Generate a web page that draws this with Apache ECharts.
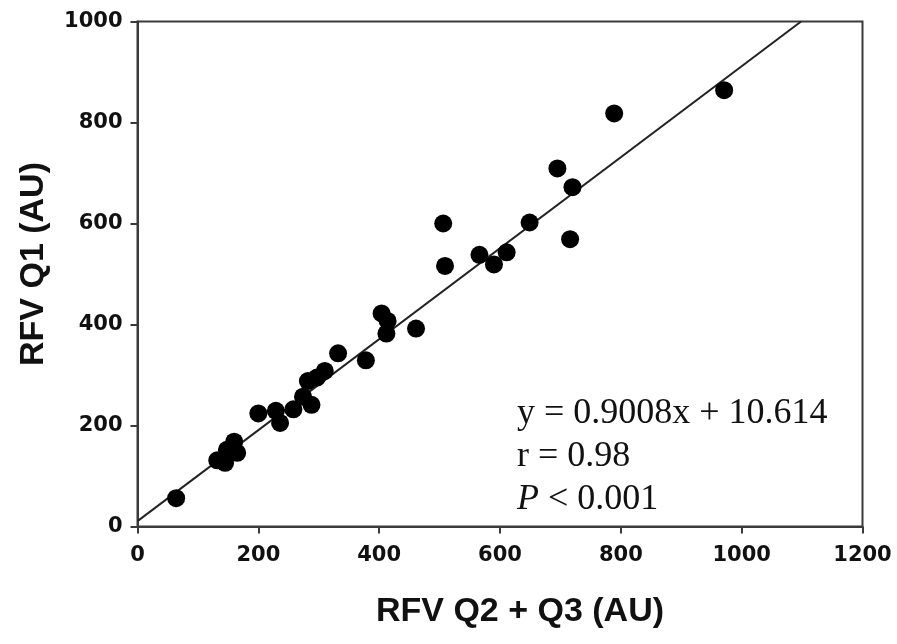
<!DOCTYPE html>
<html>
<head>
<meta charset="utf-8">
<script src="https://cdn.jsdelivr.net/npm/echarts@6/dist/echarts.min.js"></script>
<style>
  html, body { margin: 0; padding: 0; background: #fff; }
  #chart { width: 897px; height: 644px; }
</style>
</head>
<body>
<div id="chart"></div>
<script>
// RFV measured in Q2 + Q3 vs Q1 (arbitrary units)
const rfvQ2Q3 = [64, 132, 145, 148, 160, 165, 200, 229, 236, 258, 274, 288, 282, 297, 310,
                 332, 378, 404, 414, 412, 461, 506, 509, 566, 590, 611, 649, 716, 695, 720, 789, 971];
const rfvQ1   = [56, 131, 126, 152, 168, 146, 224, 229, 205, 232, 257, 241, 288, 295, 308,
                 343, 329, 422, 407, 382, 392, 600, 516, 538, 519, 543, 602, 569, 709, 672, 818, 864];

// Regression fit reported on the chart
const slope = 0.9008;
const intercept = 10.614;

const xTicks = [0, 200, 400, 600, 800, 1000, 1200];
const yTicks = [0, 200, 400, 600, 800, 1000];

const points = rfvQ2Q3.map((x, i) => [x, rfvQ1[i]]);
const yMax = yTicks[yTicks.length - 1];
const fitLine = [[0, intercept], [(yMax - intercept) / slope, yMax]];

const axisColor = '#3a3a3a';
const tickFont = { fontFamily: 'DejaVu Sans', fontWeight: 'bold', fontSize: 21, color: '#111' };
const titleFont = { fontFamily: 'Liberation Sans', fontWeight: 'bold', fontSize: 34, color: '#111' };
const plain = v => String(v);

const chart = echarts.init(document.getElementById('chart'));
chart.setOption({
  animation: false,
  backgroundColor: '#fff',
  grid: {
    left: 137.5, right: 34.5, top: 21.5, bottom: 117.5,
    show: true, borderColor: axisColor, borderWidth: 2, backgroundColor: 'transparent'
  },
  xAxis: {
    type: 'value', min: xTicks[0], max: xTicks[xTicks.length - 1], interval: 200,
    name: 'RFV Q2 + Q3 (AU)', nameLocation: 'middle', nameGap: 68,
    nameTextStyle: Object.assign({ padding: [0, 0, 0, 40] }, titleFont),
    axisLine: { onZero: false, lineStyle: { color: axisColor, width: 2 } },
    axisTick: { show: true, inside: false, length: 7, lineStyle: { color: axisColor, width: 2 } },
    axisLabel: Object.assign({ margin: 19, formatter: plain }, tickFont),
    splitLine: { show: false }
  },
  yAxis: {
    type: 'value', min: yTicks[0], max: yMax, interval: 200,
    name: 'RFV Q1 (AU)', nameLocation: 'middle', nameGap: 87, nameRotate: 90,
    nameTextStyle: Object.assign({ padding: [0, 0, 0, 20] }, titleFont),
    axisLine: { onZero: false, lineStyle: { color: axisColor, width: 2 } },
    axisTick: { show: true, inside: false, length: 7, lineStyle: { color: axisColor, width: 2 } },
    axisLabel: Object.assign({ margin: 15, formatter: plain }, tickFont),
    splitLine: { show: false }
  },
  series: [
    {
      type: 'line', data: fitLine, symbol: 'none', silent: true,
      lineStyle: { color: '#222', width: 2 }, z: 2
    },
    {
      type: 'scatter', data: points, symbol: 'circle', symbolSize: 18,
      itemStyle: { color: '#000', opacity: 1 }, z: 3
    }
  ],
  graphic: [{
    type: 'text', left: 517, top: 392, z: 10,
    style: {
      text: 'y = 0.9008x + 10.614\nr = 0.98\n{i|P} < 0.001',
      font: '36px "Liberation Serif"', fill: '#111', lineHeight: 43,
      rich: { i: { font: 'italic 36px "Liberation Serif"', fill: '#111' } }
    }
  }]
});
</script>
</body>
</html>
